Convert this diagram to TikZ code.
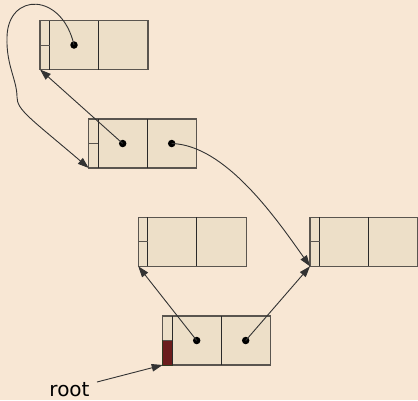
\documentclass[tikz,border=0pt]{standalone}
\usepackage{fontspec}
\setmainfont{DejaVu Sans}
\usetikzlibrary{arrows.meta}
\definecolor{bgc}{HTML}{F8E7D4}
\definecolor{recfill}{HTML}{EDDFC8}
\definecolor{recline}{HTML}{5A554F}
\definecolor{inline}{HTML}{2A2A2A}
\definecolor{rootred}{HTML}{6B1D1D}
\definecolor{rootedge}{HTML}{2E3A20}
\definecolor{conn}{HTML}{333333}
\tikzset{
  rec/.style={draw=recline, fill=recfill, line width=1.1pt, minimum width=108pt, minimum height=49pt, inner sep=0pt, outer sep=0pt, anchor=north west},
  inl/.style={draw=inline, line width=0.9pt},
  ptr/.style={circle, fill=black, minimum size=7.5pt, inner sep=0pt},
  link/.style={draw=conn, line width=0.9pt, -{Triangle[length=11pt,width=7.5pt]}},
  lbl/.style={font=\fontsize{20}{24}\selectfont, text=black, inner sep=0pt, anchor=base}
}
\newcommand\reclines[1]{%
  \draw[inl] ([xshift=9.5pt]#1.north west) -- ([xshift=9.5pt]#1.south west);
  \draw[inl] ([xshift=58.5pt]#1.north west) -- ([xshift=58.5pt]#1.south west);
  \draw[inl, draw=recline] (#1.west) -- ([xshift=9.5pt]#1.west);
}
\begin{document}
\begin{tikzpicture}[x=1pt,y=-1pt]
\fill[bgc] (0,0) rectangle (418,400);
\useasboundingbox (0,0) rectangle (418,400);
% records
\node[rec] (A) at (40,20.5) {};
\node[rec] (B) at (88.7,119) {};
\node[rec] (C) at (138.3,217.3) {};
\node[rec] (D) at (310,217.3) {};
\node[rec] (E) at (162.7,316) {};
\fill[rootred, draw=rootedge, line width=0.9pt] (E.west) rectangle ([xshift=9.5pt]E.south west);
\reclines{A}
\reclines{B}
\reclines{C}
\reclines{D}
\reclines{E}
% pointers
\node[ptr] (Ap) at ([xshift=34pt]A.west) {};
\node[ptr] (Bp) at ([xshift=34pt]B.west) {};
\node[ptr] (Bq) at ([xshift=83pt]B.west) {};
\node[ptr] (Ep) at ([xshift=34pt]E.west) {};
\node[ptr] (Eq) at ([xshift=83pt]E.west) {};
% links
\draw[link] (Ep.center) -- (C.south west);
\draw[link] (Eq.center) -- (D.south west);
\draw[link] (Bp.center) -- (A.south west);
\draw[link] (Bq.center) .. controls (225,145) and (275.5,217.4) .. (D.south west);
\coordinate (k1) at (7,37);
\coordinate (k2) at (17,97);
\draw[link] (Ap.center) .. controls (62,-8) and (8,-8) .. (k1)
  .. controls (6,65) and (17,80) .. (k2)
  .. controls (17,110) and (30,118) .. (B.south west);
% root
\node[lbl] (root) at (69.5,396.7) {root};
\coordinate (rs) at (97,382);
\draw[link] (rs) -- (E.south west);
\end{tikzpicture}
\end{document}
